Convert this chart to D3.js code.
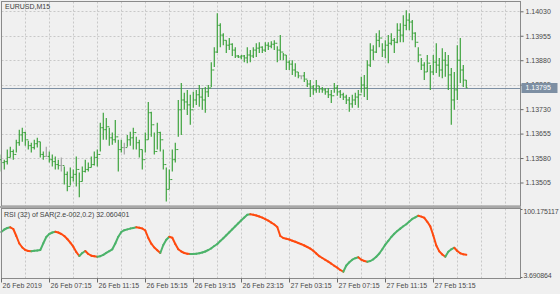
<!DOCTYPE html>
<html lang="en">
<head>
<meta charset="utf-8">
<title>EURUSD,M15 - RSI of SAR</title>
<style>
    body { margin: 0; background: #f0f0f0; }
    svg { display: block; font-family: "Liberation Sans", Arial, sans-serif; }
    .grid line { stroke: #c8c8c8; stroke-width: 1; stroke-dasharray: 2,2; }
    .frame { fill: none; stroke: #8a8a8a; stroke-width: 1; }
    .axis text { fill: #4a4a4a; font-size: 7px; font-family: "Liberation Sans", Arial, sans-serif; }
    .axis line { stroke: #6a6a6a; }
</style>
</head>
<body>
<svg id="chart" width="560" height="294"></svg>
<script src="https://cdn.jsdelivr.net/npm/d3@7"></script>
<script>
// EURUSD M15 bars, 26 Feb 03:15 .. 27 Feb ~17:00 (open, high, low, close)
var opens = [1.13575, 1.13566, 1.13569, 1.13582, 1.13600, 1.13591, 1.13627, 1.13651, 1.13658, 1.13636,
    1.13618, 1.13612, 1.13624, 1.13630, 1.13591, 1.13585, 1.13585, 1.13575, 1.13569, 1.13560,
    1.13557, 1.13557, 1.13530, 1.13493, 1.13521, 1.13530, 1.13545, 1.13508, 1.13539, 1.13545,
    1.13551, 1.13560, 1.13582, 1.13591, 1.13673, 1.13667, 1.13676, 1.13642, 1.13636, 1.13645,
    1.13606, 1.13612, 1.13612, 1.13636, 1.13642, 1.13658, 1.13627, 1.13606, 1.13575, 1.13636,
    1.13719, 1.13682, 1.13600, 1.13658, 1.13636, 1.13560, 1.13484, 1.13514, 1.13575, 1.13606,
    1.13728, 1.13758, 1.13752, 1.13743, 1.13728, 1.13758, 1.13774, 1.13767, 1.13758, 1.13783,
    1.13795, 1.13850, 1.13905, 1.13987, 1.13957, 1.13941, 1.13926, 1.13929, 1.13911, 1.13893,
    1.13890, 1.13893, 1.13887, 1.13896, 1.13893, 1.13911, 1.13917, 1.13920, 1.13911, 1.13926,
    1.13923, 1.13929, 1.13932, 1.13911, 1.13905, 1.13896, 1.13874, 1.13868, 1.13850, 1.13844,
    1.13832, 1.13832, 1.13822, 1.13807, 1.13798, 1.13789, 1.13801, 1.13792, 1.13789, 1.13783,
    1.13774, 1.13771, 1.13795, 1.13783, 1.13774, 1.13767, 1.13758, 1.13746, 1.13758, 1.13767,
    1.13774, 1.13804, 1.13795, 1.13865, 1.13911, 1.13905, 1.13941, 1.13948, 1.13911, 1.13926,
    1.13932, 1.13941, 1.13935, 1.13972, 1.13957, 1.13987, 1.14003, 1.13997, 1.13963, 1.13935,
    1.13896, 1.13865, 1.13844, 1.13871, 1.13844, 1.13874, 1.13865, 1.13850, 1.13880, 1.13865,
    1.13835, 1.13758, 1.13789, 1.13880, 1.13850, 1.13819];

var highs = [1.13591, 1.13575, 1.13606, 1.13615, 1.13606, 1.13636, 1.13667, 1.13673, 1.13661, 1.13633,
    1.13627, 1.13636, 1.13642, 1.13630, 1.13600, 1.13615, 1.13600, 1.13591, 1.13585, 1.13575,
    1.13582, 1.13554, 1.13539, 1.13551, 1.13545, 1.13585, 1.13536, 1.13554, 1.13575, 1.13566,
    1.13585, 1.13600, 1.13606, 1.13688, 1.13719, 1.13703, 1.13673, 1.13658, 1.13697, 1.13636,
    1.13636, 1.13627, 1.13651, 1.13661, 1.13673, 1.13645, 1.13636, 1.13606, 1.13658, 1.13752,
    1.13722, 1.13658, 1.13688, 1.13661, 1.13606, 1.13551, 1.13545, 1.13606, 1.13627, 1.13758,
    1.13810, 1.13780, 1.13789, 1.13774, 1.13783, 1.13789, 1.13804, 1.13795, 1.13798, 1.13804,
    1.13874, 1.13920, 1.14024, 1.13993, 1.13963, 1.13941, 1.13948, 1.13932, 1.13920, 1.13896,
    1.13896, 1.13896, 1.13920, 1.13911, 1.13920, 1.13932, 1.13935, 1.13923, 1.13935, 1.13935,
    1.13938, 1.13941, 1.13923, 1.13957, 1.13902, 1.13896, 1.13880, 1.13880, 1.13871, 1.13844,
    1.13832, 1.13844, 1.13819, 1.13819, 1.13804, 1.13819, 1.13801, 1.13798, 1.13795, 1.13795,
    1.13789, 1.13810, 1.13804, 1.13789, 1.13780, 1.13774, 1.13767, 1.13774, 1.13780, 1.13789,
    1.13829, 1.13835, 1.13880, 1.13932, 1.13926, 1.13963, 1.13972, 1.13932, 1.13941, 1.13957,
    1.13963, 1.13948, 1.13993, 1.13993, 1.14018, 1.14033, 1.14024, 1.14003, 1.13966, 1.13920,
    1.13887, 1.13874, 1.13896, 1.13865, 1.13896, 1.13932, 1.13887, 1.13917, 1.13905, 1.13896,
    1.13856, 1.13844, 1.13926, 1.13948, 1.13865, 1.13819];

var lows = [1.13539, 1.13545, 1.13560, 1.13582, 1.13575, 1.13597, 1.13618, 1.13630, 1.13618, 1.13606,
    1.13597, 1.13606, 1.13612, 1.13582, 1.13575, 1.13585, 1.13566, 1.13554, 1.13545, 1.13545,
    1.13539, 1.13499, 1.13478, 1.13496, 1.13508, 1.13493, 1.13460, 1.13508, 1.13536, 1.13539,
    1.13551, 1.13557, 1.13554, 1.13600, 1.13636, 1.13636, 1.13618, 1.13621, 1.13627, 1.13539,
    1.13597, 1.13591, 1.13615, 1.13618, 1.13606, 1.13606, 1.13582, 1.13545, 1.13597, 1.13636,
    1.13645, 1.13591, 1.13606, 1.13600, 1.13545, 1.13447, 1.13484, 1.13539, 1.13566, 1.13645,
    1.13651, 1.13728, 1.13712, 1.13682, 1.13734, 1.13743, 1.13737, 1.13728, 1.13719, 1.13767,
    1.13798, 1.13859, 1.13902, 1.13920, 1.13926, 1.13902, 1.13911, 1.13893, 1.13887, 1.13887,
    1.13883, 1.13874, 1.13871, 1.13874, 1.13887, 1.13890, 1.13902, 1.13902, 1.13905, 1.13911,
    1.13917, 1.13911, 1.13874, 1.13880, 1.13880, 1.13850, 1.13850, 1.13835, 1.13829, 1.13825,
    1.13822, 1.13813, 1.13798, 1.13767, 1.13774, 1.13780, 1.13780, 1.13780, 1.13774, 1.13764,
    1.13749, 1.13780, 1.13771, 1.13764, 1.13758, 1.13746, 1.13722, 1.13734, 1.13743, 1.13734,
    1.13780, 1.13767, 1.13758, 1.13859, 1.13880, 1.13902, 1.13920, 1.13890, 1.13887, 1.13871,
    1.13926, 1.13902, 1.13932, 1.13935, 1.13935, 1.13972, 1.13972, 1.13941, 1.13920, 1.13874,
    1.13850, 1.13819, 1.13844, 1.13789, 1.13835, 1.13841, 1.13829, 1.13825, 1.13829, 1.13789,
    1.13682, 1.13728, 1.13758, 1.13810, 1.13798, 1.13795];

var closes = [1.13566, 1.13569, 1.13582, 1.13600, 1.13591, 1.13627, 1.13651, 1.13658, 1.13636, 1.13618,
    1.13612, 1.13624, 1.13630, 1.13591, 1.13585, 1.13585, 1.13575, 1.13569, 1.13560, 1.13557,
    1.13557, 1.13530, 1.13493, 1.13521, 1.13530, 1.13545, 1.13508, 1.13539, 1.13545, 1.13551,
    1.13560, 1.13582, 1.13591, 1.13673, 1.13667, 1.13676, 1.13642, 1.13636, 1.13645, 1.13606,
    1.13612, 1.13612, 1.13636, 1.13642, 1.13658, 1.13627, 1.13606, 1.13575, 1.13636, 1.13719,
    1.13682, 1.13600, 1.13658, 1.13636, 1.13560, 1.13484, 1.13514, 1.13575, 1.13606, 1.13728,
    1.13758, 1.13752, 1.13743, 1.13728, 1.13758, 1.13774, 1.13767, 1.13758, 1.13783, 1.13795,
    1.13850, 1.13905, 1.13987, 1.13957, 1.13941, 1.13926, 1.13929, 1.13911, 1.13893, 1.13890,
    1.13893, 1.13887, 1.13896, 1.13893, 1.13911, 1.13917, 1.13920, 1.13911, 1.13926, 1.13923,
    1.13929, 1.13932, 1.13911, 1.13905, 1.13896, 1.13874, 1.13868, 1.13850, 1.13844, 1.13832,
    1.13832, 1.13822, 1.13807, 1.13798, 1.13789, 1.13801, 1.13792, 1.13789, 1.13783, 1.13774,
    1.13771, 1.13795, 1.13783, 1.13774, 1.13767, 1.13758, 1.13746, 1.13758, 1.13767, 1.13774,
    1.13804, 1.13795, 1.13865, 1.13911, 1.13905, 1.13941, 1.13948, 1.13911, 1.13926, 1.13932,
    1.13941, 1.13935, 1.13972, 1.13957, 1.13987, 1.14003, 1.13997, 1.13963, 1.13935, 1.13896,
    1.13865, 1.13844, 1.13871, 1.13844, 1.13874, 1.13865, 1.13850, 1.13880, 1.13865, 1.13835,
    1.13758, 1.13789, 1.13880, 1.13850, 1.13819, 1.13795];

// RSI (32) of SAR, one value per bar
var rsiValues = [70.42, 74.62, 77.15, 78.32, 75.46, 63.70, 51.09, 44.37, 40.16, 38.48,
    38.15, 38.82, 39.32, 40.16, 51.43, 62.02, 67.06, 69.58, 70.93, 69.58,
    67.06, 63.70, 58.66, 52.44, 45.71, 36.80, 30.08, 35.12, 38.48, 33.44,
    30.58, 29.57, 28.90, 29.74, 32.10, 35.46, 38.15, 41.34, 51.09, 62.52,
    70.42, 73.45, 74.79, 76.14, 77.15, 78.32, 77.48, 76.31, 72.95, 60.34,
    50.75, 44.37, 39.83, 35.12, 48.57, 57.31, 62.52, 60.67, 50.25, 41.34,
    37.64, 35.12, 33.78, 33.27, 33.44, 33.78, 34.62, 35.96, 37.64, 40.16,
    43.03, 46.89, 50.25, 55.29, 59.83, 64.87, 69.92, 74.96, 80.00, 85.05,
    90.09, 94.80, 99.33, 100.175117, 99.50, 98.16, 96.48, 94.63, 91.94, 89.42,
    86.23, 83.03, 78.83, 63.70, 60.34, 58.99, 57.81, 55.80, 53.95, 51.93,
    49.91, 47.73, 45.21, 42.52, 38.82, 34.45, 29.74, 26.71, 23.69, 20.50,
    17.14, 13.61, 10.41, 6.55, 3.690864, 14.11, 19.49, 23.86, 26.38, 27.89,
    23.86, 21.67, 20.50, 21.67, 24.53, 28.90, 34.28, 41.51, 49.24, 55.63,
    62.02, 67.40, 72.10, 76.14, 80.00, 83.53, 88.07, 92.44, 95.13, 97.82,
    96.31, 94.29, 87.57, 79.84, 64.54, 47.73, 37.81, 32.60, 28.90, 37.31,
    41.34, 44.03, 38.50, 34.60, 32.90, 32.060401];

var priceTicks = [1.13505, 1.13580, 1.13655, 1.13730, 1.13805, 1.13880, 1.13955, 1.14030];
var rsiTicks = [3.690864, 100.175117];
var timeIndex = [0, 16, 32, 48, 64, 80, 96, 112, 128, 144];
var timeLabels = ["26 Feb 2019", "26 Feb 07:15", "26 Feb 11:15", "26 Feb 15:15", "26 Feb 19:15",
    "26 Feb 23:15", "27 Feb 03:15", "27 Feb 07:15", "27 Feb 11:15", "27 Feb 15:15"];
var lastPrice = 1.13795;

var svg = d3.select("#chart");
var left = 1.5, right = 520.5;
var main = { top: 1.5, bottom: 206 };
var sub = { top: 208.5, bottom: 278.5 };

var x = d3.scaleLinear().domain([0, 155]).range([1.3, 466.3]);
var y = d3.scaleLinear().domain([1.13505, 1.14030]).range([182.5, 11.3]);
var yr = d3.scaleLinear().domain([3.690864, 100.175117]).range([271.7, 214.3]);

svg.append("rect").attr("width", 560).attr("height", 294).attr("fill", "#f0f0f0");

// grid
var gridIdx = d3.range(8, 180, 8).filter(function (d) { return x(d) < right - 2; });
var grid = svg.append("g").attr("class", "grid");
grid.selectAll("line.v1").data(gridIdx).enter().append("line")
    .attr("x1", function (d) { return Math.round(x(d)) + 0.5; })
    .attr("x2", function (d) { return Math.round(x(d)) + 0.5; })
    .attr("y1", main.top).attr("y2", main.bottom);
grid.selectAll("line.v2").data(gridIdx).enter().append("line")
    .attr("x1", function (d) { return Math.round(x(d)) + 0.5; })
    .attr("x2", function (d) { return Math.round(x(d)) + 0.5; })
    .attr("y1", sub.top).attr("y2", sub.bottom);
grid.selectAll("line.h").data(priceTicks).enter().append("line")
    .attr("x1", left).attr("x2", right)
    .attr("y1", function (d) { return Math.round(y(d)) + 0.5; })
    .attr("y2", function (d) { return Math.round(y(d)) + 0.5; });

// current price line
svg.append("line")
    .attr("x1", left).attr("x2", right)
    .attr("y1", Math.round(y(lastPrice)) + 0.5).attr("y2", Math.round(y(lastPrice)) + 0.5)
    .attr("stroke", "#7d8fa3").attr("stroke-width", 1);

// bars
var bars = svg.append("g").selectAll("g").data(d3.range(closes.length)).enter().append("g")
    .attr("stroke", function (i) { return opens[i] === closes[i] ? "#a3a3a3" : "#3ea33e"; });
bars.append("line")
    .attr("x1", function (i) { return x(i); }).attr("x2", function (i) { return x(i); })
    .attr("y1", function (i) { return y(highs[i]); })
    .attr("y2", function (i) { return y(lows[i]); })
    .attr("stroke-width", 1.2);
bars.append("line")
    .attr("x1", function (i) { return x(i) - 1.4; }).attr("x2", function (i) { return x(i); })
    .attr("y1", function (i) { return y(opens[i]); })
    .attr("y2", function (i) { return y(opens[i]); })
    .attr("stroke-width", 1);
bars.append("line")
    .attr("x1", function (i) { return x(i); }).attr("x2", function (i) { return x(i) + 1.4; })
    .attr("y1", function (i) { return y(closes[i]); })
    .attr("y2", function (i) { return y(closes[i]); })
    .attr("stroke-width", 1);

// rsi line, green while rising, orange-red while falling
svg.append("g").selectAll("line").data(d3.range(1, rsiValues.length)).enter().append("line")
    .attr("x1", function (i) { return x(i - 1); }).attr("x2", function (i) { return x(i); })
    .attr("y1", function (i) { return yr(rsiValues[i - 1]); })
    .attr("y2", function (i) { return yr(rsiValues[i]); })
    .attr("stroke", function (i) { return rsiValues[i] >= rsiValues[i - 1] ? "#4cb36a" : "#ff4a0f"; })
    .attr("stroke-width", 2).attr("stroke-linecap", "round");

// frames
svg.append("rect").attr("class", "frame")
    .attr("x", left).attr("y", main.top).attr("width", right - left).attr("height", main.bottom - main.top);
svg.append("rect").attr("x", 0).attr("y", 206).attr("width", right + 0.5).attr("height", 2).attr("fill", "#a8a8a8");
svg.append("rect").attr("class", "frame")
    .attr("x", left).attr("y", sub.top).attr("width", right - left).attr("height", sub.bottom - sub.top);

// price axis
var yAxis = d3.axisRight(y).tickValues(priceTicks).tickSize(3).tickPadding(2).tickFormat(d3.format(".5f"));
var gy = svg.append("g").attr("class", "axis").attr("transform", "translate(" + right + ",0)").call(yAxis);
gy.select(".domain").remove();
gy.selectAll("text").attr("dy", "0.32em");

// last price label
var lp = svg.append("g").attr("transform", "translate(" + (right + 1) + "," + Math.round(y(lastPrice)) + ")");
lp.append("rect").attr("x", 0).attr("y", -5).attr("width", 36).attr("height", 10).attr("fill", "#7d8fa3");
lp.append("text").attr("x", 4).attr("y", 0).attr("dy", "0.34em").attr("fill", "#ffffff")
    .attr("font-size", "7px").text(d3.format(".5f")(lastPrice));

// rsi axis
var rAxis = d3.axisRight(yr).tickValues(rsiTicks).tickSize(2).tickPadding(1).tickFormat(d3.format(".6f"));
var gr = svg.append("g").attr("class", "axis").attr("transform", "translate(" + right + ",0)").call(rAxis);
gr.select(".domain").remove();
gr.selectAll(".tick").attr("transform", function (d) {
    return "translate(0," + (d === rsiTicks[1] ? sub.top + 1 : sub.bottom - 1) + ")";
});
gr.selectAll("text").attr("font-size", "6.6px").attr("letter-spacing", "-0.15px")
    .attr("dy", function (d) { return d === rsiTicks[1] ? "0.6em" : "0em"; });

// time axis
var xAxis = d3.axisBottom(x).tickValues(timeIndex).tickSize(4).tickFormat(function (d, i) { return timeLabels[i]; });
var gx = svg.append("g").attr("class", "axis").attr("transform", "translate(0," + sub.bottom + ")").call(xAxis);
gx.select(".domain").remove();
gx.selectAll(".tick").attr("transform", function (d) { return "translate(" + (Math.round(x(d)) + 0.5) + ",0)"; });
gx.selectAll("text").attr("text-anchor", "start").attr("x", 1).attr("y", 5).attr("dy", "0.71em");

// titles
svg.append("text").attr("x", 5).attr("y", 9).attr("font-size", "7px").attr("fill", "#404040").text("EURUSD,M15");
svg.append("text").attr("x", 4).attr("y", 217).attr("font-size", "7px").attr("fill", "#404040")
    .text("RSI (32) of SAR(2.e-002,0.2) 32.060401");
</script>
</body>
</html>
